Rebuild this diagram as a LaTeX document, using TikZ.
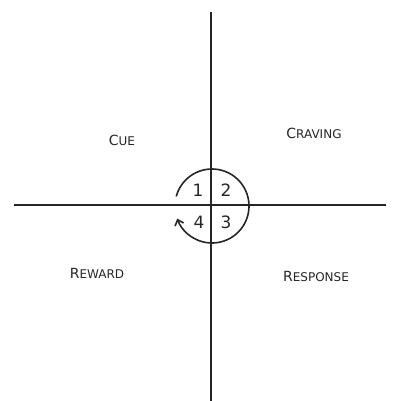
\documentclass[tikz,border=0pt]{standalone}
\usepackage{fontspec}
\setmainfont{DejaVu Sans}
\usetikzlibrary{arrows.meta}
\begin{document}
\begin{tikzpicture}[x=1pt,y=-1pt,
  ax/.style={line width=1.6pt,draw=black!85},
  lbl/.style={font=\fontsize{14}{16}\selectfont,text=black!85},
  num/.style={font=\fontsize{17}{19}\selectfont,text=black!85}]
\useasboundingbox (0,0) rectangle (396,401);
\coordinate (T) at (211,12);
\coordinate (B) at (211,401);
\coordinate (L) at (14,205);
\coordinate (R) at (386,205);
\coordinate (O) at (212,206);
\draw[ax] (T) -- (B);
\draw[ax] (L) -- (R);
% circle arc, clockwise (visually) from upper-left to lower-left with arrow
\draw[ax,-{Straight Barb[length=5pt,width=9pt]}] (O) ++(-165:37) arc[start angle=-165,end angle=160,radius=37];
\node[lbl] (cue) at (122,140) {C\fontsize{12}{14}\selectfont UE};
\node[lbl] (craving) at (314,133) {C\fontsize{12}{14}\selectfont RAVING};
\node[lbl] (reward) at (97,273) {R\fontsize{12}{14}\selectfont EWARD};
\node[lbl] (response) at (316,276) {R\fontsize{12}{14}\selectfont ESPONSE};
\node[num] (n1) at (198,190) {1};
\node[num] (n2) at (226,190) {2};
\node[num] (n3) at (226,222) {3};
\node[num] (n4) at (199,222) {4};
\end{tikzpicture}
\end{document}
